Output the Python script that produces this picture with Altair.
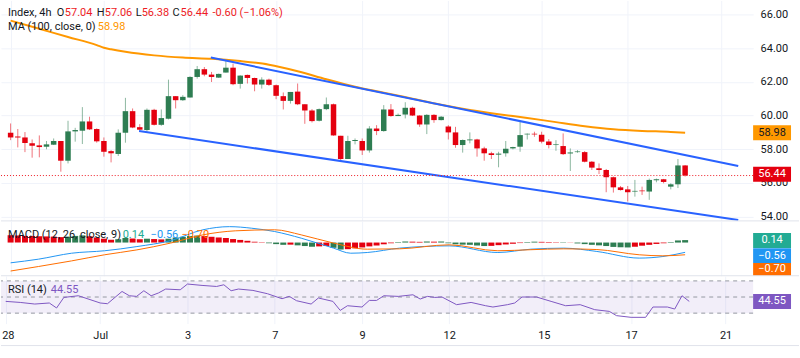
import altair as alt
import pandas as pd

# ---------------- 4h candles ----------------
opens = [58.98, 58.76, 58.70, 58.35, 58.23, 58.15, 58.27, 58.49, 57.32, 59.06,
         59.10, 59.65, 59.20, 58.49, 57.89, 57.72, 58.98, 60.26, 59.31, 59.14,
         60.34, 59.45, 59.81, 61.15, 60.91, 61.07, 62.29, 62.75, 62.43, 62.25,
         62.55, 62.84, 61.88, 62.41, 62.23, 61.84, 62.13, 61.80, 61.15, 60.87,
         61.42, 60.67, 60.30, 59.69, 60.38, 60.67, 58.80, 57.42, 58.49, 58.49,
         57.93, 59.23, 59.08, 60.36, 59.97, 60.06, 60.46, 60.00, 59.47, 60.04,
         59.73, 59.35, 59.00, 58.25, 58.53, 58.58, 58.05, 57.76, 57.68, 57.76,
         58.05, 58.15, 58.88, 58.92, 58.86, 58.46, 58.25, 58.19, 57.75, 57.83,
         57.83, 57.26, 56.87, 56.77, 56.34, 55.74, 55.62, 55.49, 55.55, 55.49,
         56.16, 56.22, 55.78, 55.92, 57.04]
highs = [59.53, 59.20, 59.02, 58.58, 58.82, 58.49, 58.64, 58.49, 59.69, 59.27,
         60.50, 59.93, 59.24, 58.70, 57.95, 59.18, 61.05, 60.42, 59.49, 60.42,
         60.40, 60.36, 62.13, 61.15, 61.21, 62.33, 62.94, 62.88, 62.59, 62.49,
         63.28, 63.08, 62.39, 62.43, 62.25, 62.27, 62.19, 61.84, 61.37, 61.40,
         61.90, 60.67, 60.38, 60.42, 61.07, 60.71, 58.80, 58.80, 58.64, 58.64,
         59.37, 59.43, 60.62, 60.68, 60.12, 60.79, 60.52, 60.02, 60.08, 60.08,
         59.97, 59.43, 59.33, 58.58, 59.00, 58.62, 58.15, 57.85, 57.85, 58.49,
         58.15, 59.67, 58.94, 59.04, 59.04, 58.60, 58.54, 58.94, 58.05, 57.95,
         57.89, 57.30, 57.16, 56.83, 56.38, 55.82, 55.82, 56.18, 55.78, 56.26,
         56.26, 56.24, 55.98, 57.42, 57.06]
lows = [58.54, 58.11, 57.83, 57.50, 57.52, 58.00, 58.25, 56.67, 57.16, 58.45,
        58.31, 59.14, 58.39, 57.56, 57.22, 57.60, 58.39, 59.25, 59.12, 59.06,
        59.41, 59.39, 59.77, 60.42, 60.87, 61.07, 62.19, 62.33, 61.99, 62.23,
        62.55, 61.80, 61.60, 61.90, 61.44, 61.60, 61.76, 60.97, 60.36, 60.71,
        60.62, 59.51, 59.59, 59.65, 60.32, 58.80, 57.26, 57.42, 58.29, 57.66,
        57.80, 58.84, 59.04, 59.93, 59.97, 59.83, 59.97, 59.33, 58.90, 59.57,
        59.71, 58.58, 58.09, 57.80, 58.35, 57.56, 57.32, 57.42, 56.93, 57.56,
        57.99, 57.85, 58.58, 58.74, 58.35, 58.05, 57.91, 57.66, 56.71, 57.79,
        57.22, 56.77, 56.53, 55.45, 55.43, 55.55, 54.90, 55.19, 55.29, 55.00,
        56.04, 55.98, 55.62, 55.70, 56.38]
closes = [58.70, 58.70, 58.37, 58.21, 58.13, 58.29, 58.49, 57.32, 59.06, 59.14,
          59.65, 59.18, 58.47, 57.85, 57.76, 58.98, 60.26, 59.29, 59.16, 60.34,
          59.45, 59.85, 61.15, 60.91, 61.11, 62.29, 62.75, 62.43, 62.29, 62.47,
          62.84, 61.86, 62.37, 62.23, 61.84, 62.13, 61.82, 61.17, 60.87, 61.40,
          60.67, 60.30, 59.67, 60.38, 60.67, 58.82, 57.42, 58.49, 58.55, 57.93,
          59.23, 59.08, 60.36, 59.97, 60.04, 60.46, 60.00, 59.47, 60.04, 59.73,
          59.93, 59.00, 58.25, 58.55, 58.58, 58.05, 57.76, 57.66, 57.74, 58.03,
          58.13, 58.84, 58.92, 58.88, 58.45, 58.25, 58.29, 57.71, 57.81, 57.87,
          57.26, 56.91, 56.77, 56.34, 55.74, 55.58, 55.45, 55.53, 55.51, 56.18,
          56.22, 56.06, 55.92, 57.04, 56.44]

# MA(100) read at selected bars
ma_idx = [0, 4, 8, 12, 13, 14, 16, 20, 24, 28, 32, 36, 40, 44, 48, 52, 56, 60,
          64, 68, 72, 76, 80, 84, 88, 92, 94]
ma_val = [65.63, 65.15, 64.66, 64.18, 64.02, 63.93, 63.78, 63.57, 63.44, 63.37,
          63.23, 63.02, 62.63, 62.15, 61.71, 61.36, 61.00, 60.64, 60.33, 60.08,
          59.86, 59.61, 59.37, 59.19, 59.09, 59.03, 58.98]

# descending channel (bar, price at both ends)
upper_idx = [27.9, 101.4]
upper_val = [63.44, 57.01]
lower_idx = [17.9, 101.4]
lower_val = [59.08, 53.80]

# MACD (12, 26, close, 9)
macd_idx = [0, 3.9, 8.5, 13.1, 17.6, 22.3, 26.8, 30.5, 33.6, 36.8, 40.5, 45.0,
            47.4, 49.7, 54.2, 61.1, 67.9, 72.5, 77.1, 81.7, 87.6, 90.9, 94]
macd_val = [-1.16, -0.95, -0.61, -0.47, -0.23, 0.11, 0.73, 0.91, 0.82, 0.63, 0.25,
            -0.32, -0.61, -0.57, -0.32, -0.19, -0.57, -0.38, -0.32, -0.51, -0.89,
            -0.80, -0.56]
sig_idx = [0, 3.9, 8.5, 13.1, 17.6, 22.3, 26.8, 31.3, 36.8, 40.5, 45.0, 49.7,
           54.2, 61.1, 67.9, 72.5, 77.1, 81.7, 87.6, 90.9, 94]
sig_val = [-1.63, -1.37, -1.05, -0.70, -0.42, -0.03, 0.44, 0.67, 0.73, 0.44, -0.03,
           -0.38, -0.36, -0.13, -0.47, -0.41, -0.36, -0.40, -0.70, -0.76, -0.70]
hist = [0.42, 0.40, 0.38, 0.37, 0.36, 0.35, 0.34, 0.31, 0.34, 0.38,
        0.41, 0.36, 0.29, 0.22, 0.16, 0.19, 0.26, 0.23, 0.19, 0.22,
        0.20, 0.18, 0.22, 0.29, 0.33, 0.37, 0.40, 0.37, 0.33, 0.29,
        0.26, 0.20, 0.15, 0.10, 0.05, 0.02, -0.04, -0.09, -0.13, -0.12,
        -0.16, -0.20, -0.24, -0.22, -0.20, -0.30, -0.40, -0.38, -0.33, -0.28,
        -0.22, -0.17, -0.10, -0.04, 0.03, 0.06, 0.05, 0.04, 0.06, 0.05,
        0.06, -0.04, -0.10, -0.12, -0.13, -0.17, -0.20, -0.19, -0.15, -0.11,
        -0.07, -0.03, 0.03, 0.05, 0.04, 0.03, 0.02, 0.02, 0.01, -0.05,
        -0.09, -0.13, -0.16, -0.20, -0.25, -0.27, -0.28, -0.24, -0.18, -0.13,
        -0.08, -0.04, 0.03, 0.12, 0.14]

# RSI (14)
rsi_idx = [0, 2, 4, 6, 7, 8, 10, 13, 14, 16, 17, 18, 19, 20, 21, 22, 24, 25, 27, 29,
           30, 31, 32, 34, 36, 38, 39, 40, 42, 43, 45, 46, 47, 49, 50, 51, 52, 54, 56, 57,
           58, 59, 60, 62, 64, 66, 67, 69, 70, 71, 73, 75, 77, 79, 81, 83, 84, 86, 88, 89,
           91, 92, 93, 94]
rsi_val = [44.6, 43.3, 41.3, 42.6, 36.4, 49.5, 51.6, 42.6, 41.7, 56.9,
           51.6, 50.8, 57.8, 51.6, 55.0, 59.9, 59.0, 66.1, 64.4, 63.1,
           65.2, 57.8, 59.9, 58.2, 54.1, 47.9, 50.8, 45.4, 41.3, 48.8,
           44.6, 33.4, 39.2, 37.6, 45.8, 45.8, 51.6, 50.8, 52.8, 47.5,
           50.8, 49.5, 50.0, 40.5, 43.3, 39.2, 37.6, 40.5, 42.6, 50.0,
           50.0, 44.6, 39.2, 40.5, 34.3, 32.2, 26.9, 24.8, 24.8, 37.6,
           37.6, 35.1, 51.6, 44.55]

# time axis
day_ticks = [0, 13, 25, 37, 49, 61, 74, 86, 99]
day_labels = ["28", "Jul", "3", "7", "9", "12", "15", "17", "21"]
price_ticks = [54, 56, 58, 60, 62, 64, 66]

# header values
symbol = "Index, 4h"
change_txt = "-0.60 (\u22121.06%)"
ma_last = 58.98
macd_hist_last, macd_last, sig_last = 0.14, -0.56, -0.70
rsi_last = 44.55

# ---------------- styling ----------------
FONT = "Roboto"
TXT = "#131722"
GRID = "#f0f3fa"
SEP = "#e0e3eb"
GREEN = "#2e7d52"
RED = "#e4000f"
RED_TXT = "#ee1c25"
ORANGE = "#ff9800"
BLUE_TL = "#2962ff"
MACD_C = "#2196f3"
SIG_C = "#ff6d00"
TEAL = "#22ab94"
RSI_C = "#7e57c2"

W = 754
H_PRICE, H_MACD, H_RSI = 221, 55, 48
X_DOMAIN = [-0.645, 102.78]

xs = alt.Scale(domain=X_DOMAIN, nice=False, zero=False)
ys_price = alt.Scale(domain=[53.75, 66.83], nice=False, zero=False)
ys_macd = alt.Scale(domain=[-1.90, 1.24], nice=False, zero=False)
ys_rsi = alt.Scale(domain=[17.0, 76.4], nice=False, zero=False)

one = pd.DataFrame({"k": [0]})

# shared axes: every layer of a pane carries the same axis definition so they merge
grid_x = alt.Axis(values=day_ticks, grid=True, gridColor=GRID, labels=False, ticks=False,
                  domain=False, title=None)
price_y = alt.Axis(orient="right", values=price_ticks, format=".2f", grid=True,
                   gridColor=GRID, domain=False, ticks=False, tickSize=0,
                   labelPadding=7, labelFont=FONT, labelFontSize=11,
                   labelColor=TXT, title=None, zindex=0)
label_expr = " : ".join(
    f"datum.value == {t} ? '{s}'" for t, s in zip(day_ticks, day_labels)) + " : ''"
time_x = alt.Axis(values=day_ticks, labelExpr=label_expr, grid=True, gridColor=GRID,
                  ticks=False, tickSize=0, domain=False, labelPadding=6,
                  labelFont=FONT, labelFontSize=11, labelColor=TXT, title=None,
                  labelOverlap=False, labelFlush=False,
                  labelAlign={"condition": {"test": "datum.value == 0", "value": "left"},
                              "value": "center"},
                  labelOffset={"condition": {"test": "datum.value == 0", "value": -4},
                               "value": 0})


def text(t, x, y, color, align="left", size=11):
    return alt.Chart(one).mark_text(
        text=t, align=align, baseline="middle", font=FONT, fontSize=size, color=color
    ).encode(x=alt.value(x), y=alt.value(y))


def tag(value, t, bg, fg, yscale, yaxis, shift=0.0, thick=15.0):
    d = pd.DataFrame({"v": [value]})
    band = alt.Chart(d).mark_rule(strokeWidth=thick, color=bg, yOffset=shift, strokeCap="butt").encode(
        x=alt.value(W), x2=alt.value(W + 38), y=alt.Y("v:Q", scale=yscale, axis=yaxis))
    lab = alt.Chart(d).mark_text(text=t, align="center", baseline="middle", font=FONT,
                                 fontSize=11, color=fg, yOffset=shift).encode(
        x=alt.value(W + 19), y=alt.Y("v:Q", scale=yscale, axis=yaxis))
    return band + lab


def separator(y):
    return alt.Chart(one).mark_rule(color=SEP, strokeWidth=1).encode(
        x=alt.value(0), x2=alt.value(800), y=alt.value(y))


# ---------------- price pane ----------------
candles = pd.DataFrame({"i": list(range(len(opens))), "o": opens, "h": highs,
                        "l": lows, "c": closes})
candles["dir"] = ["up" if c >= o else "down" for o, c in zip(opens, closes)]
cscale = alt.Scale(domain=["up", "down"], range=[GREEN, RED])

PX = alt.X("i:Q", scale=xs, axis=grid_x)

wicks = alt.Chart(candles).mark_rule(strokeWidth=1, opacity=0.55).encode(
    x=PX, y=alt.Y("l:Q", scale=ys_price, axis=price_y), y2="h:Q",
    color=alt.Color("dir:N", scale=cscale, legend=None),
)
bodies = alt.Chart(candles).mark_bar(size=5.5).encode(
    x=PX, y=alt.Y("o:Q", scale=ys_price, axis=price_y), y2="c:Q",
    color=alt.Color("dir:N", scale=cscale, legend=None),
)
ma = alt.Chart(pd.DataFrame({"i": ma_idx, "v": ma_val})).mark_line(
    color=ORANGE, strokeWidth=2, interpolate="monotone").encode(
    x=PX, y=alt.Y("v:Q", scale=ys_price, axis=price_y))

channel = pd.DataFrame({
    "i": upper_idx + lower_idx,
    "v": upper_val + lower_val,
    "line": ["upper"] * 2 + ["lower"] * 2,
})
trend = alt.Chart(channel).mark_line(color=BLUE_TL, strokeWidth=2).encode(
    x=PX, y=alt.Y("v:Q", scale=ys_price, axis=price_y), detail="line:N")

last_line = alt.Chart(pd.DataFrame({"v": [closes[-1]]})).mark_rule(
    color=RED_TXT, strokeWidth=1, strokeDash=[1, 2]).encode(
    y=alt.Y("v:Q", scale=ys_price, axis=price_y))

head = [
    text(symbol, 7, 13, TXT),
    text("O", 56, 13, TXT), text(f"{opens[-1]:.2f}", 64, 13, RED_TXT),
    text("H", 96, 13, TXT), text(f"{highs[-1]:.2f}", 104, 13, RED_TXT),
    text("L", 135, 13, TXT), text(f"{lows[-1]:.2f}", 141, 13, RED_TXT),
    text("C", 172, 13, TXT), text(f"{closes[-1]:.2f}", 180, 13, RED_TXT),
    text(change_txt, 212, 13, RED_TXT),
    text("MA (100, close, 0)", 7, 27, TXT), text(f"{ma_last:.2f}", 97, 27, ORANGE),
]

price = alt.layer(
    wicks, bodies, ma, trend, last_line,
    tag(ma_last, f"{ma_last:.2f}", ORANGE, TXT, ys_price, price_y),
    tag(closes[-1], f"{closes[-1]:.2f}", RED, "white", ys_price, price_y, shift=-1.2),
    separator(H_PRICE),
    *head,
).properties(width=W, height=H_PRICE)

# ---------------- MACD pane ----------------
cats = []
for k, hv in enumerate(hist):
    prev = hist[k - 1] if k > 0 else hist[0] + (hist[0] - hist[1])
    if hv >= 0:
        cats.append("pos_rise" if hv >= prev else "pos_fall")
    else:
        cats.append("neg_fall" if hv <= prev else "neg_rise")
hist_df = pd.DataFrame({"i": list(range(len(hist))), "v": hist, "cat": cats})
hscale = alt.Scale(domain=["pos_rise", "pos_fall", "neg_fall", "neg_rise"],
                   range=["#26a69a", "#b2dfdb", "#ff5252", "#ffcdd2"])

bars = alt.Chart(hist_df).mark_bar(size=6).encode(
    x=PX, y=alt.Y("v:Q", scale=ys_macd, axis=None),
    color=alt.Color("cat:N", scale=hscale, legend=None),
)
macd_line = alt.Chart(pd.DataFrame({"i": macd_idx, "v": macd_val})).mark_line(
    color=MACD_C, strokeWidth=1, interpolate="monotone").encode(
    x=PX, y=alt.Y("v:Q", scale=ys_macd, axis=None))
sig_line = alt.Chart(pd.DataFrame({"i": sig_idx, "v": sig_val})).mark_line(
    color=SIG_C, strokeWidth=1, interpolate="monotone").encode(
    x=PX, y=alt.Y("v:Q", scale=ys_macd, axis=None))


def fmt(v):
    return f"{v:.2f}".replace("-", "\u2212")


macd = alt.layer(
    bars, macd_line, sig_line,
    text("MACD (12, 26, close, 9)", 7, 14, TXT),
    text(fmt(macd_hist_last), 122, 14, TEAL),
    text(fmt(macd_last), 150, 14, MACD_C),
    text(fmt(sig_last), 181, 14, SIG_C),
    tag(macd_hist_last, fmt(macd_hist_last), TEAL, "white", ys_macd, None, shift=0.3),
    tag(macd_last, fmt(macd_last), MACD_C, "white", ys_macd, None, shift=3.3),
    tag(sig_last, fmt(sig_last), SIG_C, "white", ys_macd, None, shift=14.7, thick=12.7),
    separator(H_MACD),
).properties(width=W, height=H_MACD)

# ---------------- RSI pane ----------------
RX = alt.X("i:Q", scale=xs, axis=time_x)

band = alt.Chart(pd.DataFrame({"i": [X_DOMAIN[0]], "i1": [X_DOMAIN[1]],
                               "top": [70], "bot": [30]})).mark_rect(
    color=RSI_C, opacity=0.1).encode(
    x=RX, x2="i1:Q",
    y=alt.Y("top:Q", scale=ys_rsi, axis=None), y2="bot:Q")
levels = alt.Chart(pd.DataFrame({"v": [70, 50, 30]})).mark_rule(
    color="#9598a1", strokeWidth=1, strokeDash=[4, 4]).encode(
    y=alt.Y("v:Q", scale=ys_rsi, axis=None))
rsi_line = alt.Chart(pd.DataFrame({"i": rsi_idx, "v": rsi_val})).mark_line(
    color=RSI_C, strokeWidth=1).encode(
    x=RX, y=alt.Y("v:Q", scale=ys_rsi, axis=None))

rsi = alt.layer(
    band, levels, rsi_line,
    text("RSI (14)", 7, 14, TXT),
    text(f"{rsi_last:.2f}", 50, 14, RSI_C),
    tag(rsi_last, f"{rsi_last:.2f}", RSI_C, "white", ys_rsi, None),
    separator(70),
).properties(width=W, height=H_RSI)

chart = alt.vconcat(price, macd, rsi, spacing=0, bounds="flush").properties(
    padding=0, background="white"
).configure_view(stroke=None)

chart.save("out.html", embed_options={"renderer": "svg", "actions": False})
